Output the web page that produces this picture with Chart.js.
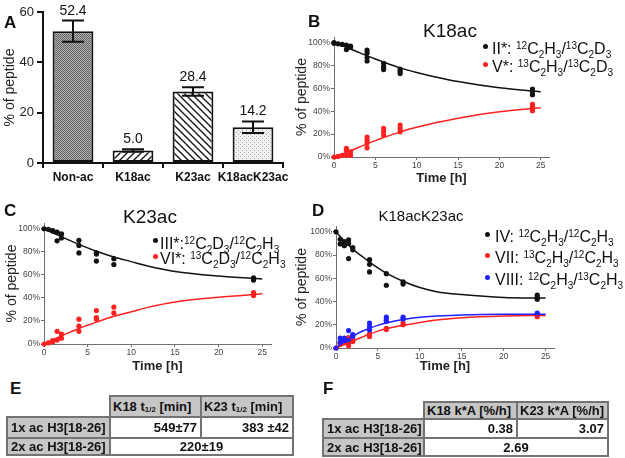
<!DOCTYPE html>
<html><head><meta charset="utf-8">
<script src="https://cdn.jsdelivr.net/npm/chart.js@4.4.1/dist/chart.umd.min.js"></script>
<style>
html,body{margin:0;padding:0;background:#fff;}
body{width:625px;height:458px;position:relative;overflow:hidden;font-family:'Liberation Sans',Arial,sans-serif;color:#111;}
canvas{position:absolute;}
.let{position:absolute;font-weight:bold;font-size:17px;line-height:17px;color:#111;}
.ttl{position:absolute;white-space:nowrap;transform:translateX(-50%);color:#111;}
.lg{position:absolute;white-space:nowrap;font-size:16px;line-height:16px;color:#111;}
.sp{font-size:10px;position:relative;top:-5px;}
.sb{font-size:10px;position:relative;top:4px;}
.dot{position:absolute;width:5px;height:5px;border-radius:50%;}
.cell{position:absolute;box-sizing:border-box;border:2px solid #737373;font:bold 13px/1 'Liberation Sans',Arial,sans-serif;display:flex;align-items:center;color:#111;white-space:nowrap;background:#fff;}
.g{background:#c6c6c6;}
.l{justify-content:flex-start;padding-left:3px;}
.r{justify-content:flex-end;padding-right:3px;}
.c{justify-content:center;}
.ss{font-size:8px;position:relative;top:3px;}
</style></head><body>

<canvas id="cA" width="300" height="195" style="left:0;top:0;"></canvas>
<canvas id="cB" width="335" height="170" style="left:290px;top:20px;"></canvas>
<canvas id="cC" width="310" height="168" style="left:0;top:210px;"></canvas>
<canvas id="cD" width="335" height="168" style="left:290px;top:210px;"></canvas>

<div class="let" style="left:4px;top:14px;">A</div>
<div class="let" style="left:308px;top:12.5px;">B</div>
<div class="let" style="left:4px;top:201.5px;">C</div>
<div class="let" style="left:312px;top:201.5px;">D</div>
<div class="let" style="left:10px;top:379.5px;">E</div>
<div class="let" style="left:323px;top:379.5px;">F</div>

<div class="ttl" style="left:450px;top:21px;font-size:19px;line-height:19px;">K18ac</div>
<div class="ttl" style="left:150px;top:206.5px;font-size:19px;line-height:19px;">K23ac</div>
<div class="ttl" style="left:421px;top:208px;font-size:15px;line-height:15px;">K18acK23ac</div>

<!-- legend B -->
<div class="dot" style="left:482.5px;top:44px;background:#111;"></div>
<div class="lg" style="left:492px;top:41px;">II*: <span class="sp">12</span>C<span class="sb">2</span>H<span class="sb">3</span>/<span class="sp">13</span>C<span class="sb">2</span>D<span class="sb">3</span></div>
<div class="dot" style="left:482.5px;top:62px;background:#ff2020;"></div>
<div class="lg" style="left:492px;top:59px;">V*: <span class="sp">13</span>C<span class="sb">2</span>H<span class="sb">3</span>/<span class="sp">13</span>C<span class="sb">2</span>D<span class="sb">3</span></div>

<!-- legend C -->
<div class="dot" style="left:152.5px;top:238px;background:#111;"></div>
<div class="lg" style="left:160px;top:235.5px;">III*:<span class="sp">12</span>C<span class="sb">2</span>D<span class="sb">3</span>/<span class="sp">12</span>C<span class="sb">2</span>H<span class="sb">3</span></div>
<div class="dot" style="left:152.5px;top:254px;background:#ff2020;"></div>
<div class="lg" style="left:160px;top:251.2px;">VI*: <span class="sp">13</span>C<span class="sb">2</span>D<span class="sb">3</span>/<span class="sp">12</span>C<span class="sb">2</span>H<span class="sb">3</span></div>

<!-- legend D -->
<div class="dot" style="left:484.5px;top:232px;background:#111;"></div>
<div class="lg" style="left:495px;top:229px;">IV: <span class="sp">12</span>C<span class="sb">2</span>H<span class="sb">3</span>/<span class="sp">12</span>C<span class="sb">2</span>H<span class="sb">3</span></div>
<div class="dot" style="left:484.5px;top:253px;background:#ff2020;"></div>
<div class="lg" style="left:495px;top:250.2px;">VII: <span class="sp">13</span>C<span class="sb">2</span>H<span class="sb">3</span>/<span class="sp">12</span>C<span class="sb">2</span>H<span class="sb">3</span></div>
<div class="dot" style="left:484.5px;top:275px;background:#2020ff;"></div>
<div class="lg" style="left:495px;top:272.2px;">VIII: <span class="sp">12</span>C<span class="sb">2</span>H<span class="sb">3</span>/<span class="sp">13</span>C<span class="sb">2</span>H<span class="sb">3</span></div>

<!-- table E -->
<div class="cell g l" style="left:109px;top:395px;width:93px;height:23px;padding-left:2px;">K18 t<span class="ss">1/2</span>&nbsp;[min]</div>
<div class="cell g l" style="left:200px;top:395px;width:94px;height:23px;padding-left:2px;">K23 t<span class="ss">1/2</span>&nbsp;[min]</div>
<div class="cell g l" style="left:6px;top:416px;width:105px;height:23px;">1x ac H3[18-26]</div>
<div class="cell r" style="left:109px;top:416px;width:93px;height:23px;">549±77</div>
<div class="cell r" style="left:200px;top:416px;width:94px;height:23px;">383 ±42</div>
<div class="cell g l" style="left:6px;top:437px;width:105px;height:19px;">2x ac H3[18-26]</div>
<div class="cell c" style="left:109px;top:437px;width:185px;height:19px;">220±19</div>

<!-- table F -->
<div class="cell g l" style="left:423px;top:401px;width:95px;height:19px;padding-left:2px;">K18 k*A [%/h]</div>
<div class="cell g l" style="left:516px;top:401px;width:93px;height:19px;padding-left:2px;">K23 k*A [%/h]</div>
<div class="cell g l" style="left:322px;top:418px;width:103px;height:21px;">1x ac H3[18-26]</div>
<div class="cell r" style="left:423px;top:418px;width:95px;height:21px;">0.38</div>
<div class="cell r" style="left:516px;top:418px;width:93px;height:21px;">3.07</div>
<div class="cell g l" style="left:322px;top:437px;width:103px;height:20px;">2x ac H3[18-26]</div>
<div class="cell c" style="left:423px;top:437px;width:186px;height:20px;">2.69</div>

<script>
// ---------- Panel A data ----------
const aCategories = ['Non-ac', 'K18ac', 'K23ac', 'K18acK23ac'];
const aValues = [52.4, 5.0, 28.4, 14.2];
const aErrors = [4.2, 0.5, 1.7, 2.3];
const aTicks = [0, 20, 40, 60];

// ---------- shared axis ticks ----------
const pctTicks = [0, 20, 40, 60, 80, 100];
const timeTicks = [0, 5, 10, 15, 20, 25];

// ---------- Panel B (K18ac) ----------
const bTimesII = [0, 0, 0.5, 1, 1.5, 1.5, 2, 2, 4, 4, 4, 4, 6, 6, 6, 8, 8, 8, 24, 24, 24];
const bValsII  = [100, 99.5, 99, 98.5, 98, 94, 97, 96, 93.5, 91, 87, 84, 82, 79, 76.5, 77, 75, 73, 59.5, 57.5, 54.5];
const bTimesV  = [0, 0.5, 1, 1.5, 1.5, 1.5, 2, 2, 4, 4, 4, 4, 6, 6, 6, 8, 8, 8, 24, 24, 24];
const bValsV   = [0, 0.5, 1.5, 7.5, 6, 1.5, 4.5, 1.5, 17.5, 14.5, 12, 8, 25, 22, 19, 28, 25, 22, 46, 43.5, 40.5];
const fitT     = [0, 1, 2, 3, 4, 5, 6, 8, 10, 12, 15, 20, 25];
const bFitII   = [100, 97.3, 94.5, 91.5, 88.5, 85.7, 83, 78, 74, 70.5, 66, 60.5, 57];
const bFitV    = [0, 2.7, 5.5, 8.5, 11.5, 14.3, 17, 22, 26, 29.5, 34, 39.5, 43];

// ---------- Panel C (K23ac) ----------
const cTimesIII = [0, 0.5, 1, 1, 1.5, 1.5, 2, 2, 4, 4, 4, 6, 6, 6, 8, 8, 24, 24, 24];
const cValsIII  = [100, 99.5, 98.5, 98, 97, 89.5, 95.5, 92, 90, 85.5, 79, 79, 78, 72, 74, 69, 57.5, 56, 55.5];
const cTimesVI  = [0, 0.5, 1, 1, 1.5, 1.5, 2, 2, 4, 4, 4, 6, 6, 6, 8, 8, 24, 24];
const cValsVI   = [0, 1, 3, 2, 11, 3.5, 8.5, 5, 21.5, 15.5, 11, 29, 23, 21.5, 32, 27, 44.5, 42];
const cFitIII   = [100, 96.5, 93, 89.7, 86.5, 83.4, 80.5, 75.5, 71.5, 67.5, 63, 59, 56.5];
const cFitVI    = [0, 3.5, 7, 10.3, 13.5, 16.3, 19, 24, 28, 32, 36.5, 40.5, 43.5];

// ---------- Panel D (K18acK23ac) ----------
const dTimesIV   = [0, 0.5, 0.5, 1, 1, 1, 1.5, 1.5, 1.5, 2, 2, 4, 4, 4, 6, 6, 8, 8, 24, 24, 24];
const dValsIV    = [100, 93.5, 89.5, 91.5, 89.5, 88, 93, 90, 77, 86.5, 84.5, 76, 72, 65.5, 64, 54, 57, 55, 45.5, 43.5, 42];
const dTimesVII  = [0, 0.5, 0.5, 1, 1, 1.5, 1.5, 1.5, 2, 2, 4, 4, 6, 6, 8, 8, 24, 24];
const dValsVII   = [0, 4.5, 3.5, 5.5, 4.5, 9, 4.5, 2, 7, 5.5, 12, 10, 17, 16, 21.5, 20, 28.5, 27];
const dTimesVIII = [0, 0.5, 0.5, 1, 1, 1.5, 1.5, 2, 2, 4, 4, 4, 6, 6, 6, 8, 8, 24, 24];
const dValsVIII  = [0, 8.5, 5, 8.5, 6.5, 15, 6, 11.5, 10, 21.5, 18.5, 15.5, 26.5, 24, 23, 26.5, 25, 30, 29];
const dFitIV     = [100, 92, 85, 79.5, 74, 69, 64.5, 57.5, 52, 48.5, 46, 43.5, 43];
const dFitVII    = [0, 3, 6, 9, 12, 14.5, 16.5, 19.5, 22, 24, 26, 27.5, 28];
const dFitVIII   = [0, 5.5, 10, 14, 17, 19.5, 21.5, 24.5, 26.5, 27.5, 28.5, 29, 29];

// ---------- rendering ----------
Chart.defaults.font.family = "'Liberation Sans', Arial, sans-serif";
const BLACK = '#111111', RED = '#ff2020', BLUE = '#2020ff';

function makePattern(kind) {
  const c = document.createElement('canvas');
  const g = c.getContext('2d');
  if (kind === 'grey') {
    c.width = 2; c.height = 2;
    g.fillStyle = '#b4b4b4'; g.fillRect(0, 0, 2, 2);
    g.fillStyle = '#606060'; g.fillRect(0, 0, 1, 1); g.fillRect(1, 1, 1, 1);
  } else if (kind === 'dots') {
    c.width = 4; c.height = 4;
    g.fillStyle = '#f2f2f2'; g.fillRect(0, 0, 4, 4);
    g.fillStyle = '#a8a8a8'; g.fillRect(0, 0, 1, 1); g.fillRect(2, 2, 1, 1);
  } else {
    const s = 7; c.width = s; c.height = s;
    g.fillStyle = '#fff'; g.fillRect(0, 0, s, s);
    g.strokeStyle = '#111'; g.lineWidth = 1.3; g.beginPath();
    if (kind === 'fwd') {
      g.moveTo(-1, s + 1); g.lineTo(s + 1, -1);
      g.moveTo(-1, 1); g.lineTo(1, -1);
      g.moveTo(s - 1, s + 1); g.lineTo(s + 1, s - 1);
    } else {
      g.moveTo(-1, -1); g.lineTo(s + 1, s + 1);
      g.moveTo(-1, s - 1); g.lineTo(1, s + 1);
      g.moveTo(s - 1, -1); g.lineTo(s + 1, 1);
    }
    g.stroke();
  }
  return document.createElement('canvas').getContext('2d').createPattern(c, 'repeat');
}

const errPlugin = {
  id: 'errbars',
  afterDatasetsDraw(chart) {
    const ctx = chart.ctx, ys = chart.scales.y, meta = chart.getDatasetMeta(0);
    ctx.save();
    ctx.strokeStyle = '#111'; ctx.lineWidth = 2; ctx.fillStyle = '#111';
    ctx.font = "14px 'Liberation Sans', Arial, sans-serif";
    ctx.textAlign = 'center'; ctx.textBaseline = 'alphabetic';
    meta.data.forEach((bar, i) => {
      const v = aValues[i], e = aErrors[i];
      const t = ys.getPixelForValue(v + e), b = ys.getPixelForValue(v - e);
      ctx.beginPath();
      ctx.moveTo(bar.x, t); ctx.lineTo(bar.x, b);
      ctx.moveTo(bar.x - 11, t); ctx.lineTo(bar.x + 11, t);
      ctx.moveTo(bar.x - 11, b); ctx.lineTo(bar.x + 11, b);
      ctx.stroke();
      ctx.fillText(v.toFixed(1), bar.x, t - 6);
    });
    ctx.restore();
  }
};

new Chart(document.getElementById('cA'), {
  type: 'bar',
  data: {
    labels: aCategories,
    datasets: [{
      data: aValues,
      backgroundColor: [makePattern('grey'), makePattern('fwd'), makePattern('back'), makePattern('dots')],
      borderColor: '#111', borderWidth: 2, borderSkipped: false,
      barPercentage: 0.68, categoryPercentage: 1
    }]
  },
  options: {
    responsive: false, animation: false, devicePixelRatio: 1,
    layout: { padding: { top: 12, right: 17, left: 0, bottom: 0 } },
    plugins: { legend: { display: false }, tooltip: { enabled: false } },
    scales: {
      x: {
        grid: { drawOnChartArea: false, drawTicks: true, tickLength: 5, color: '#111', lineWidth: 2 },
        border: { color: '#111', width: 2 },
        ticks: { font: { size: 12, weight: 'bold' }, color: '#111', padding: 2, maxRotation: 0, autoSkip: false },
        afterFit: s => { s.height = 32; }
      },
      y: {
        min: 0, max: 60,
        afterBuildTicks: s => { s.ticks = aTicks.map(v => ({ value: v })); },
        grid: { drawOnChartArea: false, drawTicks: true, tickLength: 6, color: '#111', lineWidth: 2 },
        border: { color: '#111', width: 2 },
        ticks: { font: { size: 13 }, color: '#222', padding: 3 },
        title: { display: true, text: '% of peptide', font: { size: 14 }, color: '#222', padding: { top: 2, bottom: 0 } },
        afterFit: s => { s.width = 43; }
      }
    }
  },
  plugins: [errPlugin]
});

function pts(times, vals, color) {
  return { data: times.map((t, i) => ({ x: t, y: vals[i] })), showLine: false,
    pointRadius: 2.6, pointBackgroundColor: color, pointBorderWidth: 0, clip: false };
}
function fit(vals, color) {
  return { data: fitT.map((t, i) => ({ x: t, y: vals[i] })), showLine: true, pointRadius: 0,
    borderColor: color, borderWidth: 1.5, cubicInterpolationMode: 'monotone', fill: false, clip: false };
}

function panel(id, sets, o) {
  new Chart(document.getElementById(id), {
    type: 'scatter',
    data: { datasets: sets },
    options: {
      responsive: false, animation: false, devicePixelRatio: 1,
      layout: { padding: o.pad },
      plugins: { legend: { display: false }, tooltip: { enabled: false } },
      scales: {
        x: {
          type: 'linear', min: 0, max: 26,
          afterBuildTicks: s => { s.ticks = timeTicks.map(v => ({ value: v })); },
          afterFit: s => { s.height = o.xh; },
          grid: { drawOnChartArea: false, tickLength: 3, color: '#707070' },
          border: { color: '#707070' },
          ticks: { font: { size: 8.5 }, color: '#444', padding: 1, maxRotation: 0 },
          title: { display: true, text: 'Time [h]', font: { size: 13, weight: 'bold' }, color: '#222', padding: { top: 0, bottom: 4 } }
        },
        y: {
          min: 0, max: 105,
          afterBuildTicks: s => { s.ticks = pctTicks.map(v => ({ value: v })); },
          afterFit: s => { s.width = o.yw; },
          grid: { drawOnChartArea: false, tickLength: 3, color: '#707070' },
          border: { color: '#707070' },
          ticks: { font: { size: 8.5 }, color: '#444', padding: 1, callback: v => v + '%' },
          title: { display: true, text: '% of peptide', font: { size: 14 }, color: '#222', padding: { top: 4, bottom: 0 } }
        }
      }
    }
  });
}

panel('cB', [fit(bFitII, BLACK), fit(bFitV, RED), pts(bTimesII, bValsII, BLACK), pts(bTimesV, bValsV, RED)],
  { pad: { top: 17, right: 76, left: 0, bottom: 0 }, yw: 44, xh: 33 });
panel('cC', [fit(cFitIII, BLACK), fit(cFitVI, RED), pts(cTimesIII, cValsIII, BLACK), pts(cTimesVI, cValsVI, RED)],
  { pad: { top: 13, right: 39, left: 0, bottom: 0 }, yw: 44, xh: 34 });
panel('cD', [fit(dFitIV, BLACK), fit(dFitVIII, BLUE), fit(dFitVII, RED),
  pts(dTimesIV, dValsIV, BLACK), pts(dTimesVIII, dValsVIII, BLUE), pts(dTimesVII, dValsVII, RED)],
  { pad: { top: 16, right: 71, left: 0, bottom: 0 }, yw: 46, xh: 30 });
</script>
</body></html>
